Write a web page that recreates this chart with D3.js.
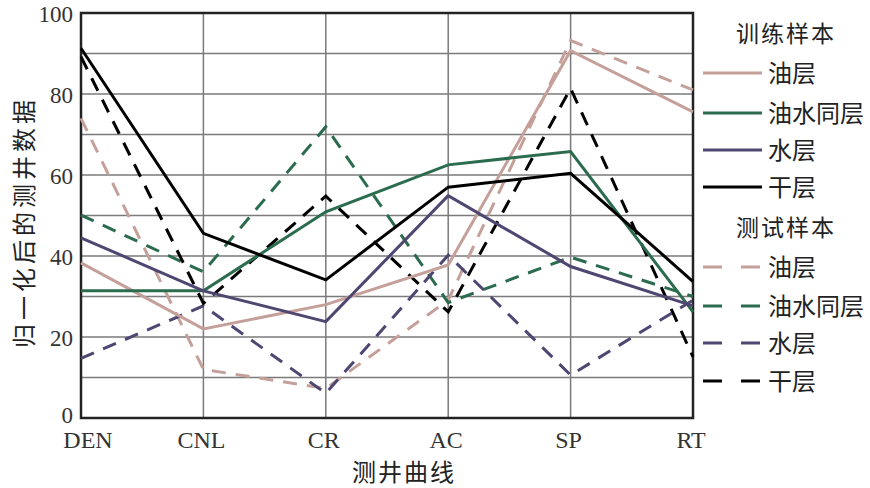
<!DOCTYPE html>
<html>
<head>
  <meta charset="utf-8">
  <script src="https://d3js.org/d3.v7.min.js"></script>
  <style>
    body { margin: 0; background: #fff; }
    .num { font-family: "Liberation Serif", "DejaVu Serif", serif; fill: #333; }
    .cjk { font-family: "Noto Sans CJK SC", sans-serif; fill: #222; }
  </style>
</head>
<body>
<svg width="870" height="488"></svg>
<script>
  // categories and tick labels
  const curves = ["DEN", "CNL", "CR", "AC", "SP", "RT"];
  const yTicks = [0, 20, 40, 60, 80, 100];
  const lithology = ["油层", "油水同层", "水层", "干层"];
  const colors = ["#c5a09a", "#2b6b4e", "#4f4672", "#000000"];

  // training samples (solid)
  const trainOil   = [38.3, 22.0, 28.0, 37.8, 90.7, 75.6];
  const trainMixed = [31.4, 31.4, 50.9, 62.5, 65.8, 26.2];
  const trainWater = [44.5, 31.4, 23.8, 54.9, 37.4, 27.7];
  const trainDry   = [91.3, 45.6, 34.1, 57.0, 60.4, 33.7];

  // test samples (dashed)
  const testOil   = [74.0, 12.0, 7.3, 29.1, 93.2, 81.0];
  const testMixed = [50.1, 36.1, 71.9, 28.5, 39.7, 30.0];
  const testWater = [14.7, 27.7, 6.1, 40.2, 10.6, 29.1];
  const testDry   = [89.2, 28.3, 54.8, 26.2, 81.4, 15.1];

  const train = [trainOil, trainMixed, trainWater, trainDry];
  const test = [testOil, testMixed, testWater, testDry];

  const plotLeft = 81, plotRight = 693, plotTop = 13, plotBottom = 418;
  const svg = d3.select("svg");

  const x = d3.scalePoint().domain(curves).range([plotLeft, plotRight]);
  const y = d3.scaleLinear().domain([0, 100]).range([plotBottom, plotTop]);

  // grid
  svg.append("g").selectAll("line")
    .data(d3.range(10, 100, 10))
    .join("line")
      .attr("x1", plotLeft).attr("x2", plotRight)
      .attr("y1", d => y(d)).attr("y2", d => y(d))
      .attr("stroke", "#7a7a7a").attr("stroke-width", 1.5);
  svg.append("g").selectAll("line")
    .data(curves.slice(1, -1))
    .join("line")
      .attr("x1", d => x(d)).attr("x2", d => x(d))
      .attr("y1", plotTop).attr("y2", plotBottom)
      .attr("stroke", "#7a7a7a").attr("stroke-width", 1.5);

  // frame
  svg.append("rect")
    .attr("x", plotLeft).attr("y", plotTop)
    .attr("width", plotRight - plotLeft).attr("height", plotBottom - plotTop)
    .attr("fill", "none").attr("stroke", "#222").attr("stroke-width", 2.5);

  const line = d3.line()
    .x((d, i) => x(curves[i]))
    .y(d => y(d));

  // lines: dashed drawn first, solid on top
  svg.append("g").selectAll("path")
    .data(test)
    .join("path")
      .attr("d", d => line(d))
      .attr("fill", "none")
      .attr("stroke", (d, i) => colors[i])
      .attr("stroke-width", 3)
      .attr("stroke-dasharray", "14,10");
  svg.append("g").selectAll("path")
    .data(train)
    .join("path")
      .attr("d", d => line(d))
      .attr("fill", "none")
      .attr("stroke", (d, i) => colors[i])
      .attr("stroke-width", 3);

  // y tick labels
  svg.append("g").selectAll("text")
    .data(yTicks)
    .join("text")
      .attr("class", "num")
      .attr("x", 73).attr("y", d => y(d) - (d === 0 ? 3 : -1))
      .attr("dy", "0.33em")
      .attr("text-anchor", "end")
      .attr("font-size", 23)
      .text(d => d);

  // x tick labels
  svg.append("g").selectAll("text")
    .data(curves)
    .join("text")
      .attr("class", "num")
      .attr("x", d => x(d)).attr("y", 448)
      .attr("dx", (d, i) => i === 0 ? 7 : -2)
      .attr("text-anchor", "middle")
      .attr("font-size", 24)
      .text(d => d);

  // axis titles
  svg.append("text")
    .attr("class", "cjk")
    .attr("x", 404).attr("y", 481)
    .attr("text-anchor", "middle")
    .attr("font-size", 24)
    .attr("letter-spacing", 2)
    .text("测井曲线");
  svg.append("text")
    .attr("class", "cjk")
    .attr("transform", "translate(33,222) rotate(-90)")
    .attr("text-anchor", "middle")
    .attr("font-size", 24)
    .attr("letter-spacing", 4)
    .text("归一化后的测井数据");

  // legend
  const legend = svg.append("g");
  const groups = [
    { title: "训练样本", titleY: 34, rows: [73, 113, 150, 187], dash: null },
    { title: "测试样本", titleY: 228, rows: [267, 306, 343, 381], dash: "19,19" }
  ];
  groups.forEach(g => {
    legend.append("text")
      .attr("class", "cjk")
      .attr("x", 786).attr("y", g.titleY)
      .attr("dy", "0.36em")
      .attr("text-anchor", "middle")
      .attr("font-size", 23)
      .attr("letter-spacing", 2)
      .text(g.title);
    lithology.forEach((name, i) => {
      legend.append("line")
        .attr("x1", 703).attr("x2", g.dash ? 760 : 762)
        .attr("y1", g.rows[i]).attr("y2", g.rows[i])
        .attr("stroke", colors[i]).attr("stroke-width", 3)
        .attr("stroke-dasharray", g.dash);
      legend.append("text")
        .attr("class", "cjk")
        .attr("x", 768).attr("y", g.rows[i])
        .attr("dy", "0.36em")
        .attr("font-size", 24)
        .text(name);
    });
  });
</script>
</body>
</html>
